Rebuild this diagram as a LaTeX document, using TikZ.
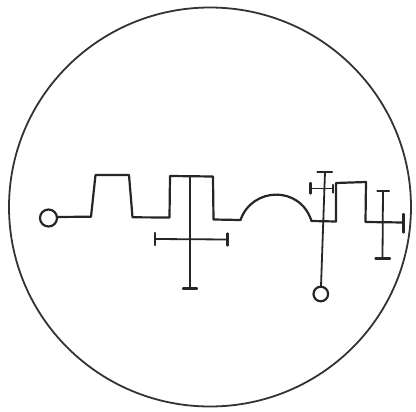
\documentclass[tikz,border=0pt]{standalone}
\begin{document}
\begin{tikzpicture}[x=1pt,y=-1pt,
  ink/.style={line width=2.2pt,line join=round,line cap=round,black!85},
  thin ink/.style={line width=1.8pt,line cap=round,black!85},
  tick/.style={line width=2.4pt,line cap=round,black!85},
  rim/.style={line width=1.8pt,black!80}]
\useasboundingbox (0,0) rectangle (416,412);
% outer circle
\draw[rim] (210,207) ellipse[x radius=201,y radius=199.5];
% left ring and wave line
\draw[ink] (48.5,218) circle[radius=8.5];
\draw[ink] (57,217) -- (91,216.7) -- (95.5,175) -- (129,175) -- (132.5,217.3)
  -- (169.5,217.5) -- (170,176) -- (213,176.5) -- (213.5,219.5) -- (240.5,220)
  .. controls (252,187) and (300,185) .. (311.5,221) -- (336,221.5) -- (336,183)
  -- (366,182) -- (365.5,222) -- (403.5,222.5);
% cross 1
\draw[thin ink] (190,176) -- (190,288.5);
\draw[tick] (183,288.5) -- (197,288.5);
\draw[thin ink] (155,239) -- (227.5,239.5);
\draw[tick] (155,233) -- (155,245);
\draw[tick] (227.5,233.5) -- (227.5,245.5);
% cross 2 with ring
\draw[thin ink] (325,172) -- (321,286.5);
\draw[ink] (320.8,294) circle[radius=7.3];
\draw[tick] (317.5,172) -- (332,172);
\draw[thin ink] (310.5,188.5) -- (333,188.5);
\draw[tick] (310.5,183) -- (310.5,193.5);
\draw[tick] (333,185) -- (333,192.5);
% cross 3
\draw[thin ink] (383,191) -- (382.5,258.5);
\draw[tick] (377.5,191) -- (389,191);
\draw[tick] (375.5,258.5) -- (390,258.5);
\draw[tick] (403.5,214) -- (403.5,232.5);
\end{tikzpicture}
\end{document}
